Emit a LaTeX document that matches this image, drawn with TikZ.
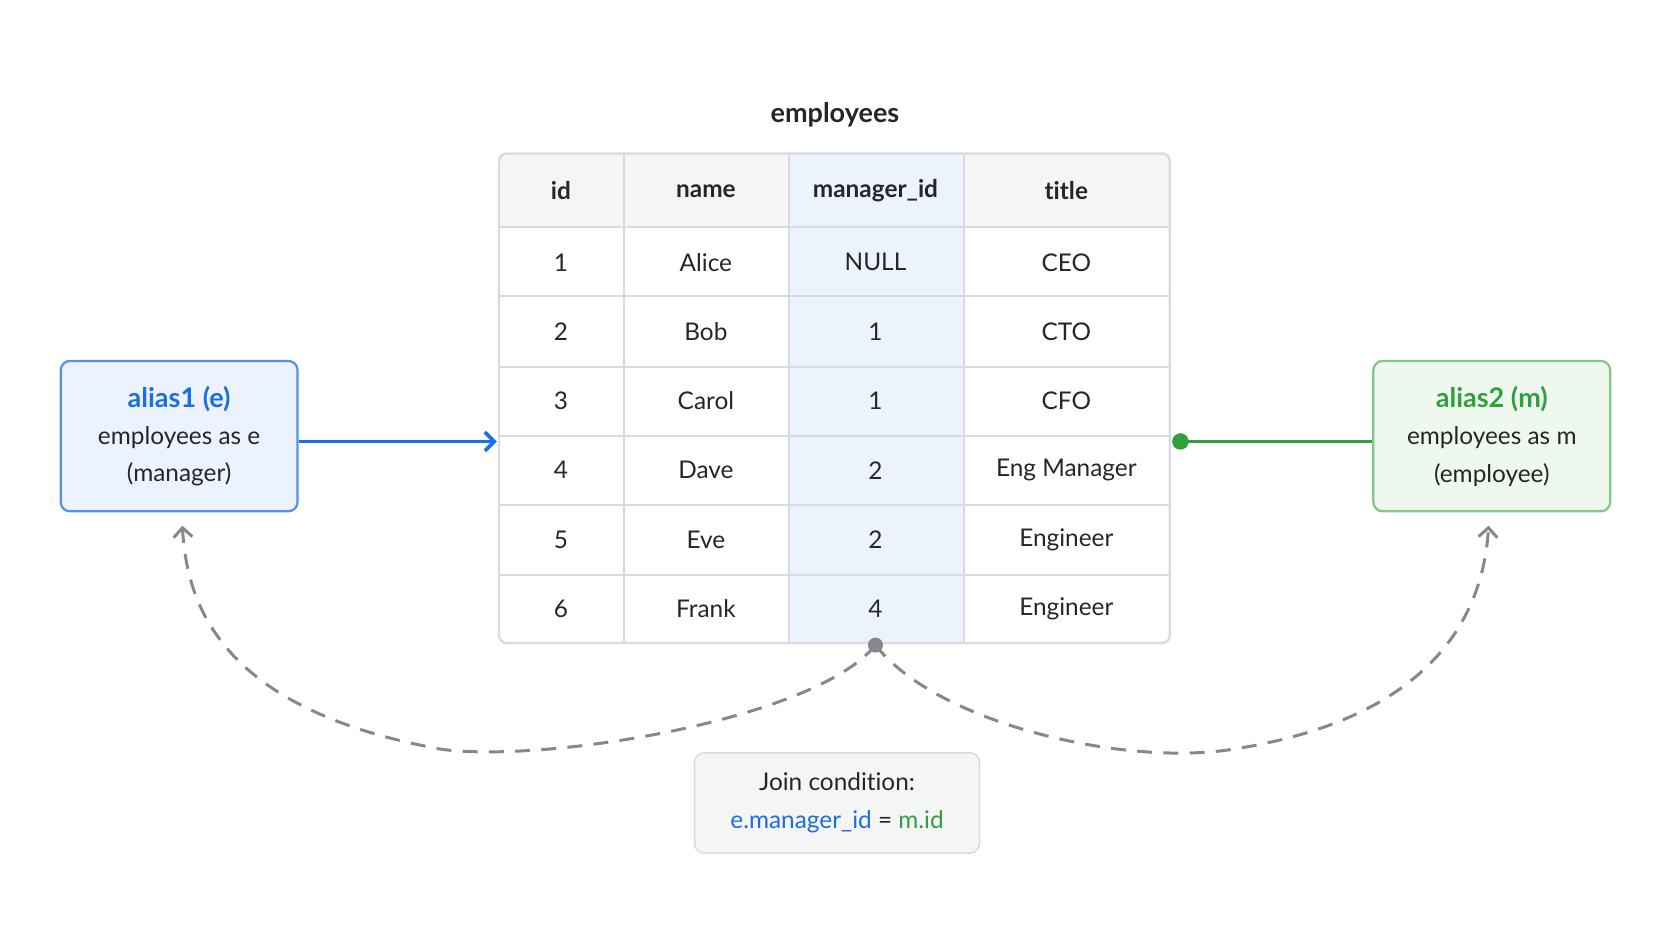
\documentclass[tikz,border=0pt]{standalone}
\usepackage{fontspec}
\setmainfont{Lato}[Ligatures={NoCommon,NoContextual}]
\usetikzlibrary{positioning,arrows.meta}
\definecolor{aliasblue}{RGB}{26,110,230}
\definecolor{aliasgreen}{RGB}{48,160,60}
\definecolor{boxblue}{RGB}{236,243,255}
\definecolor{boxgreen}{RGB}{239,248,239}
\definecolor{colblue}{RGB}{237,243,253}
\definecolor{gridgray}{RGB}{215,218,222}
\definecolor{headgray}{RGB}{245,245,246}
\definecolor{dashgray}{RGB}{135,135,140}
\tikzset{
  txt/.style={font=\fontsize{6.5}{10}\selectfont, text=black!85},
  alias/.style={draw, rounded corners=2.5pt, line width=0.6pt, minimum width=2.22cm,
    minimum height=1.41cm, align=center, txt},
}
\begin{document}
\begin{tikzpicture}[x=0.01cm, y=-0.01cm]
  \useasboundingbox (0,0) rectangle (1568,882);

  \node[txt, font=\fontsize{7.2}{9}\selectfont\bfseries] (caption) at (783,108) {employees};

  % table
  \fill[headgray] (468,144) rectangle (1097,213);
  \fill[colblue] (740,144) rectangle (904,603);
  \foreach \y in {213,278,344,409,474,539}
    \draw[gridgray, line width=0.5pt] (468,\y) -- (1097,\y);
  \foreach \x in {585,740,904}
    \draw[gridgray, line width=0.5pt] (\x,144) -- (\x,603);
  \draw[gridgray, line width=0.6pt, rounded corners=2pt] (468,144) rectangle (1097,603);

  \foreach \a/\b/\c/\d [count=\r] in {id/name/manager\_id/title}
  {
    \node[txt, font=\fontsize{6.5}{9}\selectfont\bfseries] at (526,179) {\a};
    \node[txt, font=\fontsize{6.5}{9}\selectfont\bfseries] at (662,179) {\b};
    \node[txt, font=\fontsize{6.5}{9}\selectfont\bfseries] (mgrhead) at (821,179) {\c};
    \node[txt, font=\fontsize{6.5}{9}\selectfont\bfseries] at (1000,179) {\d};
  }
  \foreach \a/\b/\c/\d [count=\r] in {1/Alice/NULL/CEO, 2/Bob/1/CTO, 3/Carol/1/CFO,
      4/Dave/2/Eng Manager, 5/Eve/2/Engineer, 6/Frank/4/Engineer}
  {
    \pgfmathsetmacro{\yy}{181+65*\r}
    \node[txt] at (526,\yy) {\a};
    \node[txt] at (662,\yy) {\b};
    \node[txt] at (821,\yy) {\c};
    \node[txt] at (1000,\yy) {\d};
  }
  \coordinate (tblwest) at (466,414);
  \coordinate (tbleast) at (1107,414);
  \coordinate (mgrfoot) at (821,605);

  % aliases
  \node[alias, draw=aliasblue!75, fill=boxblue] (alias1) at (168,409)
    {\textcolor{aliasblue}{\bfseries\fontsize{7.2}{10}\selectfont alias1 (e)}\\employees as e\\(manager)};
  \node[alias, draw=aliasgreen!60, fill=boxgreen] (alias2) at (1399,409)
    {\textcolor{aliasgreen}{\bfseries\fontsize{7.2}{10}\selectfont alias2 (m)}\\employees as m\\(employee)};

  \draw[aliasblue, line width=1pt, -{Straight Barb[length=2.5pt,width=5pt]}]
    (alias1.east |- tblwest) -- (tblwest);
  \draw[aliasgreen, line width=1pt] (alias2.west |- tbleast) -- (tbleast);
  \fill[aliasgreen] (tbleast) circle (2.2pt);

  % join condition
  \node[txt, draw=gridgray, fill=headgray, rounded corners=2.5pt, minimum width=2.67cm,
    minimum height=0.94cm, align=center] (join) at (785,753)
    {Join condition:\\\textcolor{aliasblue}{e.manager\_id} = \textcolor{aliasgreen}{m.id}};

  \fill[dashgray] (mgrfoot) circle (2pt);
  \draw[dashgray, line width=0.8pt, dash pattern=on 4pt off 3pt, -{Straight Barb[length=2.5pt,width=5pt]}]
    (mgrfoot) .. controls (760,680) and (480,720) .. (400,700)
    .. controls (200,660) and (175,560) .. (171,493);
  \draw[dashgray, line width=0.8pt, dash pattern=on 4pt off 3pt, -{Straight Barb[length=2.5pt,width=5pt]}]
    (mgrfoot) .. controls (880,680) and (1060,720) .. (1160,702)
    .. controls (1360,670) and (1392,560) .. (1396,493);
\end{tikzpicture}
\end{document}
